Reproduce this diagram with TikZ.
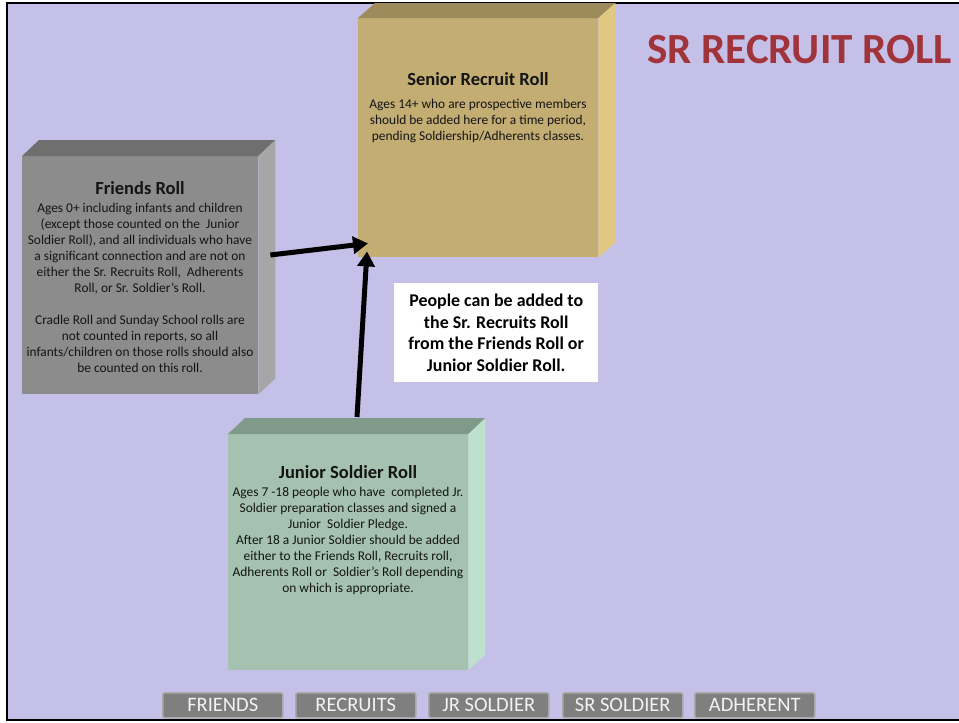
\documentclass[tikz,border=0pt]{standalone}
\usepackage{fontspec}
\setmainfont{Carlito}
\usetikzlibrary{arrows.meta,calc}
\definecolor{bg}{HTML}{C4C0E8}
\definecolor{srfront}{HTML}{C3AD73}
\definecolor{srtop}{HTML}{9E8B5C}
\definecolor{srside}{HTML}{E0C880}
\definecolor{frfront}{HTML}{8C8C8C}
\definecolor{frtop}{HTML}{6F6F6F}
\definecolor{frside}{HTML}{A6A6A6}
\definecolor{jrfront}{HTML}{A5C2B0}
\definecolor{jrtop}{HTML}{7F9A88}
\definecolor{jrside}{HTML}{BEE0CC}
\definecolor{titlered}{HTML}{A0343A}
\definecolor{btnfill}{HTML}{7F7F7F}
\definecolor{btnedge}{HTML}{A9A9A9}
\definecolor{ink}{HTML}{141414}
\tikzset{
  boxface/.style={draw=none, inner sep=0pt, anchor=north west},
  boxtitle/.style={font=\fontsize{18.5}{20}\selectfont\bfseries, text=ink, anchor=base, inner sep=0pt},
  boxbody/.style={font=\fontsize{13.4}{16}\selectfont, text=ink, align=center, anchor=north, inner sep=0pt},
  arr/.style={line width=5pt, -{Triangle[length=15pt,width=17pt]}},
  btn/.style={fill=btnfill, draw=btnedge, line width=1.5pt, rounded corners=2pt, minimum width=120pt, minimum height=25pt, inner sep=0pt, text=white!95!black, font=\fontsize{20.5}{22}\selectfont, anchor=north west}
}
\newcommand{\cube}[5]{% node, top colour, side colour, dx, dy
  \fill[#2] (#1.north west) -- ++(#4,-#5) -- ($(#1.north east)+(#4,-#5)$) -- (#1.north east) -- cycle;
  \fill[#3] (#1.north east) -- ++(#4,-#5) -- ($(#1.south east)+(#4,-#5)$) -- (#1.south east) -- cycle;
}
\begin{document}
\begin{tikzpicture}[x=1pt,y=-1pt]
\useasboundingbox (0,0) rectangle (959,723);
\fill[white] (0,0) rectangle (959,723);
\fill[bg] (7,3) rectangle (959,720);
\draw[line width=2.5pt] (959,3) -- (7,3) -- (7,720) -- (959,720);

% Senior Recruit Roll
\node[boxface, fill=srfront, minimum width=240pt, minimum height=239pt] (senior) at (358,18) {};
\cube{senior}{srtop}{srside}{17}{15}
\node[boxtitle] (seniortitle) at (478,85) {Senior Recruit Roll};
\node[boxbody] (seniorbody) at (478,99) {Ages 14+ who are prospective members\\should be added here for a time period,\\pending Soldiership/Adherents classes.};

% Friends Roll
\node[boxface, fill=frfront, minimum width=236pt, minimum height=238pt] (friends) at (22,156) {};
\cube{friends}{frtop}{frside}{17}{16}
\node[boxtitle] (friendstitle) at (140,194) {Friends Roll};
\node[boxbody] (friendsbody) at (140,203) {Ages 0+ including infants and children\\(except those counted on the \ Junior\\Soldier Roll), and all individuals who have\\a significant connection and are not on\\either the Sr. Recruits Roll, \ Adherents\\Roll, or Sr. Soldier’s Roll.\\[16pt]Cradle Roll and Sunday School rolls are\\not counted in reports, so all\\infants/children on those rolls should also\\be counted on this roll.};

% Junior Soldier Roll
\node[boxface, fill=jrfront, minimum width=240pt, minimum height=236pt] (junior) at (228,434) {};
\cube{junior}{jrtop}{jrside}{17}{16}
\node[boxtitle] (juniortitle) at (348,478) {Junior Soldier Roll};
\node[boxbody] (juniorbody) at (348,487) {Ages 7 -18 people who have \ completed Jr.\\Soldier preparation classes and signed a\\Junior \ Soldier Pledge.\\After 18 a Junior Soldier should be added\\either to the Friends Roll, Recruits roll,\\Adherents Roll or \ Soldier’s Roll depending\\on which is appropriate.};

% Note
\node[fill=white, minimum width=204pt, minimum height=99pt, inner sep=0pt, anchor=north west] (note) at (394,283) {};
\node[font=\fontsize{17.9}{21.5}\selectfont\bfseries, align=center, inner sep=0pt] (notetext) at (note.center) {People can be added to\\the Sr. Recruits Roll\\from the Friends Roll or\\Junior Soldier Roll.};

% Arrows
\draw[arr] ($(friends.north east)+(12,99)$) -- ($(senior.south west)+(10,-14)$);
\draw[arr] ($(junior.north west)+(129,-17)$) -- ($(senior.south west)+(9,-6)$);

% Title
\node[font=\fontsize{43}{46}\selectfont\bfseries, text=titlered, anchor=west, inner sep=0pt] (title) at (647,50) {SR RECRUIT ROLL};

% Buttons
\node[btn] (b1) at (162,692) {FRIENDS};
\node[btn] (b2) at (295,692) {RECRUITS};
\node[btn] (b3) at (428,692) {JR SOLDIER};
\node[btn] (b4) at (562,692) {SR SOLDIER};
\node[btn] (b5) at (694,692) {ADHERENT};
\end{tikzpicture}
\end{document}
